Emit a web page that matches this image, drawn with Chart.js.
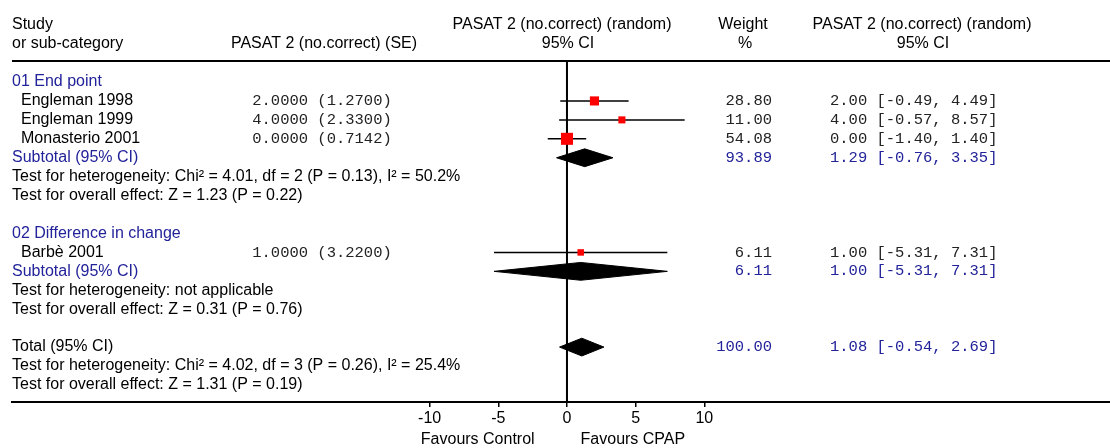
<!DOCTYPE html>
<html>
<head>
<meta charset="utf-8">
<script src="https://cdn.jsdelivr.net/npm/chart.js@4/dist/chart.umd.min.js"></script>
<style>
  html, body { margin: 0; padding: 0; overflow: hidden; background: #fff; }
  #wrap { width: 1110px; height: 448px; position: relative; }
  canvas { display: block; }
</style>
</head>
<body>
<div id="wrap"><canvas id="forest"></canvas></div>
<script>
// individual studies
const studies = ["Engleman 1998", "Engleman 1999", "Monasterio 2001", "Barbè 2001"];
const studyRow = [1, 2, 3, 9];
const effect = [2.00, 4.00, 0.00, 1.00];
const stdErr = [1.27, 2.33, 0.7142, 3.22];
const ciLow = [-0.49, -0.57, -1.40, -5.31];
const ciHigh = [4.49, 8.57, 1.40, 7.31];
const weight = [28.80, 11.00, 54.08, 6.11];

// pooled estimates (subtotals and total)
const pooledLabel = ["Subtotal (95% CI)", "Subtotal (95% CI)", "Total (95% CI)"];
const pooledRow = [4, 10, 14];
const pooledEst = [1.29, 1.00, 1.08];
const pooledLow = [-0.76, -5.31, -0.54];
const pooledHigh = [3.35, 7.31, 2.69];
const pooledWeight = [93.89, 6.11, 100.00];
const pooledBlue = [true, true, false];

// group headings and test lines
const groupLabel = ["01 End point", "02 Difference in change"];
const groupRow = [0, 8];
const testText = [
    "Test for heterogeneity: Chi\u00b2 = 4.01, df = 2 (P = 0.13), I\u00b2 = 50.2%",
    "Test for overall effect: Z = 1.23 (P = 0.22)",
    "Test for heterogeneity: not applicable",
    "Test for overall effect: Z = 0.31 (P = 0.76)",
    "Test for heterogeneity: Chi\u00b2 = 4.02, df = 3 (P = 0.26), I\u00b2 = 25.4%",
    "Test for overall effect: Z = 1.31 (P = 0.19)"
];
const testRow = [5, 6, 11, 12, 15, 16];

const xTicks = [-10, -5, 0, 5, 10];
const favours = ["Favours Control", "Favours CPAP"];

// scale ranges (zero at 567px, 13.73px per unit; rows 18.93px apart)
const xMin = -40.42, xMax = 39.55;
const yMin = -1.11, yMax = 16.9;

const BLUE = "#22229a";
const SANS = '16px "Liberation Sans", Arial, sans-serif';
const MONO = '15.5px "Liberation Mono", "Courier New", monospace';

const datasets = [];

// squares, size grows with weight
datasets.push({
    data: effect.map((v, i) => ({ x: v, y: studyRow[i] })),
    pointStyle: "rect",
    pointRadius: weight.map(w => (5.8 + 0.115 * w) / Math.SQRT2),
    backgroundColor: "#ff0000",
    borderWidth: 0,
    showLine: false
});

// confidence interval lines
studies.forEach((s, i) => {
    datasets.push({
        data: [{ x: ciLow[i], y: studyRow[i] }, { x: ciHigh[i], y: studyRow[i] }],
        showLine: true,
        borderColor: "#000",
        borderWidth: 1.5,
        pointRadius: 0
    });
});

// diamonds
pooledEst.forEach((e, i) => {
    const r = pooledRow[i];
    datasets.push({
        data: [
            { x: pooledLow[i], y: r },
            { x: e, y: r - 0.47 },
            { x: pooledHigh[i], y: r },
            { x: e, y: r + 0.47 },
            { x: pooledLow[i], y: r }
        ],
        showLine: true,
        fill: "shape",
        backgroundColor: "#000",
        borderColor: "#000",
        borderWidth: 1,
        pointRadius: 0,
        tension: 0
    });
});

// line of no effect
datasets.push({
    data: [{ x: 0, y: yMin }, { x: 0, y: yMax }],
    showLine: true,
    borderColor: "#000",
    borderWidth: 2,
    pointRadius: 0
});

const fmt = (v, d) => v.toFixed(d);
const ciStr = (e, lo, hi) => fmt(e, 2) + " [" + fmt(lo, 2) + ", " + fmt(hi, 2) + "]";

const textPlugin = {
    id: "forestText",
    afterDraw(chart) {
        const ctx = chart.ctx;
        const area = chart.chartArea;
        const y = chart.scales.y;
        const x = chart.scales.x;
        ctx.save();

        // line under the header
        ctx.strokeStyle = "#000";
        ctx.lineWidth = 2;
        ctx.beginPath();
        ctx.moveTo(area.left, area.top);
        ctx.lineTo(area.right, area.top);
        ctx.stroke();

        ctx.textBaseline = "middle";
        ctx.fillStyle = "#000";
        ctx.font = SANS;

        // header
        ctx.textAlign = "left";
        ctx.fillText("Study", 12, 25);
        ctx.fillText("or sub-category", 12, 44);
        ctx.textAlign = "center";
        ctx.fillText("PASAT 2 (no.correct) (SE)", 324, 44);
        ctx.fillText("PASAT 2 (no.correct) (random)", 562, 25);
        ctx.fillText("95% CI", 568, 44);
        ctx.fillText("Weight", 743, 25);
        ctx.fillText("%", 745, 44);
        ctx.fillText("PASAT 2 (no.correct) (random)", 922, 25);
        ctx.fillText("95% CI", 923, 44);

        // group headings
        ctx.textAlign = "left";
        ctx.fillStyle = BLUE;
        groupLabel.forEach((g, i) => ctx.fillText(g, 12, y.getPixelForValue(groupRow[i])));

        // tests
        ctx.fillStyle = "#000";
        testText.forEach((t, i) => ctx.fillText(t, 12, y.getPixelForValue(testRow[i])));

        // studies
        studies.forEach((s, i) => {
            const py = y.getPixelForValue(studyRow[i]);
            ctx.font = SANS;
            ctx.fillStyle = "#000";
            ctx.textAlign = "left";
            ctx.fillText(s, 21, py);
            ctx.font = MONO;
            ctx.fillStyle = "#222";
            ctx.textAlign = "center";
            ctx.fillText(fmt(effect[i], 4) + " (" + fmt(stdErr[i], 4) + ")", 322, py);
            ctx.textAlign = "right";
            ctx.fillText(fmt(weight[i], 2), 772, py);
            ctx.textAlign = "left";
            ctx.fillText(ciStr(effect[i], ciLow[i], ciHigh[i]), 830, py);
        });

        // pooled rows
        pooledLabel.forEach((p, i) => {
            const py = y.getPixelForValue(pooledRow[i]);
            ctx.font = SANS;
            ctx.fillStyle = pooledBlue[i] ? BLUE : "#000";
            ctx.textAlign = "left";
            ctx.fillText(p, 12, py);
            ctx.font = MONO;
            ctx.fillStyle = BLUE;
            ctx.textAlign = "right";
            ctx.fillText(fmt(pooledWeight[i], 2), 772, py);
            ctx.textAlign = "left";
            ctx.fillText(ciStr(pooledEst[i], pooledLow[i], pooledHigh[i]), 830, py);
        });

        // favours labels under the axis
        ctx.font = SANS;
        ctx.fillStyle = "#000";
        ctx.textAlign = "center";
        ctx.fillText(favours[0], x.getPixelForValue(-6.5), 440);
        ctx.fillText(favours[1], x.getPixelForValue(4.8), 440);

        ctx.restore();
    }
};

new Chart(document.getElementById("forest"), {
    type: "scatter",
    data: { datasets: datasets },
    options: {
        responsive: true,
        maintainAspectRatio: false,
        animation: false,
        layout: { autoPadding: false, padding: { top: 61, left: 12, right: 0, bottom: 0 } },
        plugins: {
            legend: { display: false },
            tooltip: { enabled: false }
        },
        scales: {
            x: {
                type: "linear",
                min: xMin,
                max: xMax,
                afterBuildTicks: (s) => { s.ticks = xTicks.map(v => ({ value: v })); },
                afterFit: (s) => { s.height = 46; },
                ticks: {
                    autoSkip: false,
                    maxRotation: 0,
                    color: "#000",
                    padding: 2,
                    font: { family: '"Liberation Sans", Arial, sans-serif', size: 16 }
                },
                grid: { drawOnChartArea: false, tickLength: 5, color: "#000", lineWidth: 1.5 },
                border: { color: "#000", width: 2 }
            },
            y: {
                type: "linear",
                display: false,
                min: yMin,
                max: yMax,
                reverse: true
            }
        }
    },
    plugins: [textPlugin]
});
</script>
</body>
</html>
